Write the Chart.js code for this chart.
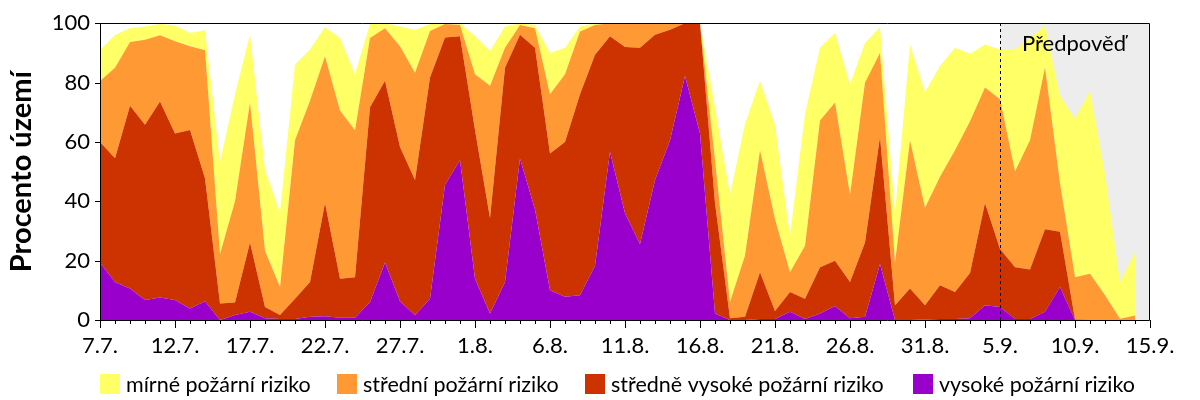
<!DOCTYPE html>
<html>
<head>
<meta charset="utf-8">
<script src="https://cdn.jsdelivr.net/npm/chart.js@4.4.0/dist/chart.umd.min.js"></script>
<style>
  html, body { margin: 0; padding: 0; background: #ffffff; }
  #wrap { width: 1200px; height: 400px; }
</style>
</head>
<body>
<div id="wrap"><canvas id="c" width="1200" height="400"></canvas></div>
<script>
// Categories (days), last one is the axis end only
const days = ['7.7.','8.7.','9.7.','10.7.','11.7.','12.7.','13.7.','14.7.','15.7.','16.7.',
  '17.7.','18.7.','19.7.','20.7.','21.7.','22.7.','23.7.','24.7.','25.7.','26.7.',
  '27.7.','28.7.','29.7.','30.7.','31.7.','1.8.','2.8.','3.8.','4.8.','5.8.',
  '6.8.','7.8.','8.8.','9.8.','10.8.','11.8.','12.8.','13.8.','14.8.','15.8.',
  '16.8.','17.8.','18.8.','19.8.','20.8.','21.8.','22.8.','23.8.','24.8.','25.8.',
  '26.8.','27.8.','28.8.','29.8.','30.8.','31.8.','1.9.','2.9.','3.9.','4.9.',
  '5.9.','6.9.','7.9.','8.9.','9.9.','10.9.','11.9.','12.9.','13.9.','14.9.','15.9.'];

const forecastStart = '5.9.';
const forecastLabel = 'Předpověď';
const yTitle = 'Procento území';
const yTicks = [0, 20, 40, 60, 80, 100];

// Series values (percent of territory), stacked bottom to top
const vysoke = [19.4,12.8,10.6,6.7,7.6,6.7,3.9,6.3,0,1.7,
  2.8,0.6,0.3,0.3,1.1,1.3,0.8,0.8,6.1,19.4,
  6.3,1.7,7.2,45.6,53.9,13.9,2.2,12.8,54.4,37.2,
  10,7.8,8.3,18.3,56.7,36,25.6,47.2,60.6,82.2,
  62.8,2.2,0,0,0.3,0.3,2.8,0.3,2.2,4.7,
  0.6,1.1,18.9,0,0,0.2,0.3,0.3,0.6,5,
  4.4,0.3,0.3,2.8,11.1,0,0,0,0,0];

const stredneVysoke = [40.6,41.7,61.6,59.1,66,56.1,60.1,41.5,5.6,4.2,
  23.3,3.8,1.4,6.9,11.7,38.1,13.1,13.6,65.6,61.2,
  52,45.5,74.5,49.6,41.7,50.1,32.2,72.2,41.7,54.5,
  46.1,52.2,67.8,71.1,38.9,56,66.1,48.9,37.2,17.8,
  37.2,37.2,0.6,1.1,15.8,2.7,6.6,6.9,15.6,15.3,
  12.2,25,42.8,5,10.6,4.8,11.4,9.1,15.2,34.4,
  19.5,17.5,16.7,27.8,18.6,0.2,0,0,0,0];

const stredni = [20.5,30.5,21.5,28.6,22.3,31.1,28.2,43.1,16.6,34.1,
  47.2,18.9,9.4,53.4,61.1,49.5,56.7,49.5,23.3,17.7,
  33.9,36.1,15.7,4.5,3.8,18.8,44.5,6.7,3.3,6.6,
  20,22.8,21.1,10,4.4,8,8.3,3.9,2.2,0,
  0,14.5,5.5,20.6,41.1,31,6.7,17.8,49.4,53.3,
  29.4,53.9,28.3,14.4,50,32.8,36.6,47.8,51.2,38.9,
  50.5,32.2,43.6,54.4,16.4,14.2,15.6,8.3,0.4,1.5];

const mirne = [10.5,11,4.6,4.5,3.8,5.3,4.5,6.7,31.1,36,
  22.8,27.3,25,25.5,17.2,9.7,24.4,18.9,4.7,1.7,
  6.7,14.5,2.3,0.3,0.6,12.8,11.7,7.2,0.6,1.1,
  13.9,8.9,1.7,0.6,0,0,0,0,0,0,
  0,17.8,36.1,44.3,23.4,31.6,12.2,44.4,24.5,23.4,
  37.2,13.3,8.6,16.7,32.2,38.9,37.3,34.5,22.7,14.5,
  16.7,41.1,34.4,14.2,29.5,53.4,61.6,41.1,12.4,21.3];

const seriesNames = ['vysoké požární riziko','středně vysoké požární riziko','střední požární riziko','mírné požární riziko'];
const seriesColors = ['#9900CC','#CC3300','#FF9933','#FFFF66'];
const seriesData = [vysoke, stredneVysoke, stredni, mirne];

const FONT = 'Lato, "DejaVu Sans", sans-serif';

const decor = {
  id: 'decor',
  beforeDatasetsDraw(chart) {
    const {ctx, chartArea: a, scales: {x}} = chart;
    const fx = Math.round(x.getPixelForValue(days.indexOf(forecastStart)));
    ctx.save();
    ctx.fillStyle = '#EDEDED';
    ctx.fillRect(fx, a.top, a.right - fx, a.bottom - a.top);
    ctx.restore();
  },
  afterDatasetsDraw(chart) {
    const {ctx, chartArea: a, scales: {x, y}} = chart;
    const L = Math.round(a.left), R = Math.round(a.right), T = Math.round(a.top), B = Math.round(a.bottom);
    ctx.save();
    // forecast dashed line
    const fx = Math.round(x.getPixelForValue(days.indexOf(forecastStart)));
    ctx.strokeStyle = '#000';
    ctx.lineWidth = 1;
    ctx.setLineDash([3, 3]);
    ctx.beginPath();
    ctx.moveTo(fx + 0.5, T);
    ctx.lineTo(fx + 0.5, B);
    ctx.stroke();
    ctx.setLineDash([]);
    // forecast text
    ctx.fillStyle = '#000';
    ctx.font = '22px ' + FONT;
    ctx.textAlign = 'left';
    ctx.textBaseline = 'alphabetic';
    ctx.fillText(forecastLabel, fx + 22, T + 28);
    // frame
    ctx.beginPath();
    ctx.rect(L + 0.5, T + 0.5, R - L - 1, B - T);
    ctx.stroke();
    // y ticks
    ctx.beginPath();
    yTicks.forEach(v => {
      const py = Math.round(y.getPixelForValue(v)) + 0.5;
      ctx.moveTo(L - 5, py);
      ctx.lineTo(L + 1, py);
    });
    // x ticks
    days.forEach((d, i) => {
      const px = Math.round(x.getPixelForValue(i)) + 0.5;
      ctx.moveTo(px, B);
      ctx.lineTo(px, B + (i % 5 === 0 ? 8 : 4));
    });
    ctx.stroke();
    // legend (top to bottom order of stack)
    const legendX = [100, 337, 585, 913];
    ctx.font = '21.5px ' + FONT;
    ctx.textBaseline = 'middle';
    for (let k = 0; k < 4; k++) {
      const di = 3 - k;
      ctx.fillStyle = seriesColors[di];
      ctx.fillRect(legendX[k], 374, 20, 20);
      ctx.fillStyle = '#000';
      ctx.fillText(seriesNames[di], legendX[k] + 26, 385);
    }
    ctx.restore();
  }
};

new Chart(document.getElementById('c'), {
  type: 'line',
  data: {
    labels: days,
    datasets: seriesData.map((arr, i) => ({
      label: seriesNames[i],
      data: arr,
      backgroundColor: seriesColors[i],
      borderColor: seriesColors[i],
      borderWidth: 0,
      pointRadius: 0,
      tension: 0,
      fill: i === 0 ? 'origin' : '-1'
    }))
  },
  options: {
    responsive: false,
    animation: false,
    devicePixelRatio: 1,
    layout: { padding: { left: 0, right: 50, top: 20, bottom: 40 } },
    plugins: { legend: { display: false }, tooltip: { enabled: false } },
    scales: {
      x: {
        type: 'category',
        offset: false,
        grid: { display: false, drawTicks: false },
        border: { display: false },
        ticks: {
          autoSkip: false, maxRotation: 0, minRotation: 0, padding: 13,
          color: '#000', font: { family: FONT, size: 22 },
          callback: (v, i) => (i % 5 === 0 ? days[i] : '')
        },
        afterFit: s => { s.height = 40; }
      },
      y: {
        stacked: true,
        min: 0, max: 100,
        grid: { display: false, drawTicks: false },
        border: { display: false },
        ticks: { stepSize: 20, padding: 10, color: '#000', font: { family: FONT, size: 22 } },
        title: { display: true, text: yTitle, color: '#000', padding: { top: 4, bottom: 0 },
                 font: { family: FONT, size: 29, weight: 'bold' } },
        afterFit: s => { s.width = 100; }
      }
    }
  },
  plugins: [decor]
});
</script>
</body>
</html>
